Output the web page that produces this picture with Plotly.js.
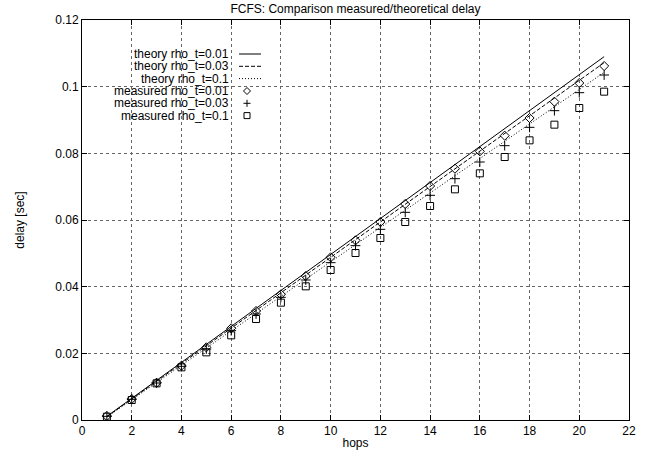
<!DOCTYPE html>
<html>
<head>
<meta charset="utf-8">
<script src="https://cdn.plot.ly/plotly-3.0.1.min.js"></script>
<style>html,body{margin:0;padding:0;background:#fff;}#chart{width:656px;height:455px;}</style>
</head>
<body>
<div id="chart"></div>
<script>
// ---- data ----
const hops = [1,2,3,4,5,6,7,8,9,10,11,12,13,14,15,16,17,18,19,20,21];
const theoryHops = [1, 21];
const theory001 = [0.0011, 0.1090];
const theory003 = [0.0010, 0.1072];
const theory01  = [0.0009, 0.1043];
const measured001 = [0.0012,0.0063,0.0112,0.0163,0.0218,0.0275,0.0327,0.0377,0.0432,0.0488,0.0539,0.0594,0.0648,0.0702,0.0754,0.0806,0.0853,0.0906,0.0955,0.1011,0.1062];
const measured003 = [0.0011,0.0062,0.0111,0.0161,0.0213,0.0268,0.0318,0.0368,0.0420,0.0472,0.0523,0.0572,0.0623,0.0674,0.0724,0.0774,0.0823,0.0878,0.0928,0.0982,0.1035];
const measured01  = [0.0010,0.0060,0.0110,0.0158,0.0203,0.0254,0.0303,0.0352,0.0401,0.0450,0.0501,0.0546,0.0594,0.0642,0.0692,0.0740,0.0789,0.0839,0.0886,0.0936,0.0985];
const seriesNames = ["theory rho_t=0.01","theory rho_t=0.03","theory rho_t=0.1","measured rho_t=0.01","measured rho_t=0.03","measured rho_t=0.1"];
const xTickVals = [0,2,4,6,8,10,12,14,16,18,20,22];
const yTickVals = [0,0.02,0.04,0.06,0.08,0.1,0.12];
const yTickText = ["0","0.02","0.04","0.06","0.08","0.1","0.12"];

// ---- styles ----
const FONT = "Liberation Sans, Arial, Helvetica, sans-serif";
const L = 82, R = 27, T = 20, B = 35, WIDTH = 656, HEIGHT = 455;
const PW = WIDTH - L - R, PH = HEIGHT - T - B;
const pxX = x => (x - L) / PW;
const pxY = y => (HEIGHT - B - y) / PH;

const dashSolid = "solid", dashDash = "4px,2px", dashDot = "1px,2px";

const traces = [
  {x: theoryHops, y: theory001, mode: "lines", line: {color: "#000", width: 1, dash: dashSolid}},
  {x: theoryHops, y: theory003, mode: "lines", line: {color: "#000", width: 1, dash: dashDash}},
  {x: theoryHops, y: theory01,  mode: "lines", line: {color: "#000", width: 1, dash: dashDot}},
  {x: hops, y: measured001, mode: "markers", marker: {symbol: "diamond-open", size: 7, color: "#000", line: {width: 1, color: "#000"}}},
  {x: hops, y: measured003, mode: "markers", marker: {symbol: "cross-thin-open", size: 7, color: "#000", line: {width: 1, color: "#000"}}},
  {x: hops, y: measured01,  mode: "markers", marker: {symbol: "square-open", size: 7, color: "#000", line: {width: 1, color: "#000"}}}
].map((t, i) => Object.assign(t, {type: "scatter", name: seriesNames[i], showlegend: false, hoverinfo: "skip"}));

// ---- hand-made gnuplot-style key (text right, sample on the right) ----
const rowsY = [54, 66.3, 78.6, 91, 103.3, 115.6];
const textRight = 230, sampleL = 239, sampleR = 261, markX = 247;
const annotations = seriesNames.map((n, i) => ({
  text: n, xref: "paper", yref: "paper", x: pxX(textRight), y: pxY(rowsY[i]),
  xanchor: "right", yanchor: "middle", showarrow: false, borderpad: 0,
  font: {family: FONT, size: 12, color: "#000"}
}));
const shapes = [];
[dashSolid, dashDash, dashDot].forEach((d, i) => {
  shapes.push({type: "line", xref: "paper", yref: "paper",
    x0: pxX(sampleL), x1: pxX(sampleR), y0: pxY(rowsY[i]), y1: pxY(rowsY[i]),
    line: {color: "#000", width: 1, dash: d}});
});
const mk = (i, path) => ({type: "path", xref: "paper", yref: "paper",
  xsizemode: "pixel", ysizemode: "pixel", xanchor: pxX(markX), yanchor: pxY(rowsY[i]),
  path: path, line: {color: "#000", width: 1}});
shapes.push(mk(3, "M0,3.5L3.5,0L0,-3.5L-3.5,0Z"));
shapes.push(mk(4, "M-3.5,0L3.5,0M0,-3.5L0,3.5"));
shapes.push(mk(5, "M-3,-3L3,-3L3,3L-3,3Z"));

const axisCommon = {
  showline: true, linecolor: "#000", linewidth: 1, mirror: "ticks",
  ticks: "inside", ticklen: 5, tickcolor: "#000", tickwidth: 1,
  showgrid: true, gridcolor: "#666", gridwidth: 1, griddash: "dot",
  zeroline: false, tickfont: {family: FONT, size: 12, color: "#000"},
  automargin: false, fixedrange: true
};

const layout = {
  width: WIDTH, height: HEIGHT,
  margin: {l: L, r: R, t: T, b: B, pad: 0},
  paper_bgcolor: "#fff", plot_bgcolor: "#fff",
  font: {family: FONT, size: 12, color: "#000"},
  title: {text: "FCFS: Comparison measured/theoretical delay", font: {family: FONT, size: 12, color: "#000"},
    xref: "paper", x: 0.5, xanchor: "center", yref: "container", y: 1 - 9 / HEIGHT, yanchor: "middle"},
  xaxis: Object.assign({}, axisCommon, {range: [0, 22], tickvals: xTickVals, ticktext: xTickVals.map(String),
    title: {text: "hops", font: {family: FONT, size: 12, color: "#000"}, standoff: 1}}),
  yaxis: Object.assign({}, axisCommon, {range: [0, 0.12], tickvals: yTickVals, ticktext: yTickText,
    title: {text: "delay [sec]", font: {family: FONT, size: 12, color: "#000"}, standoff: 28}}),
  showlegend: false,
  annotations: annotations,
  shapes: shapes
};

Plotly.newPlot("chart", traces, layout, {displayModeBar: false, staticPlot: true});
</script>
</body>
</html>
